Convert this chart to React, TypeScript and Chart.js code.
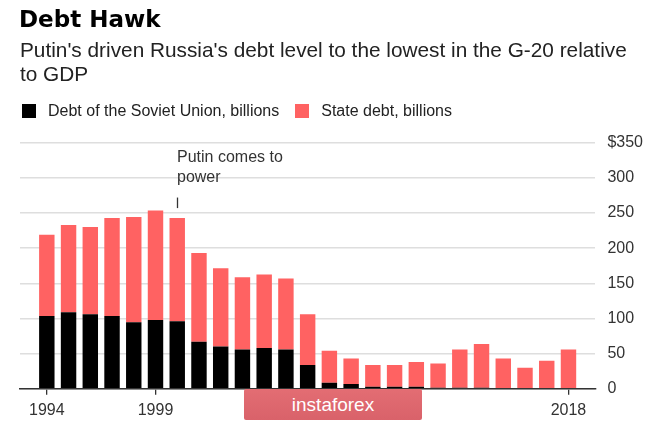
import React, { useEffect, useRef } from 'react';
import { Chart, registerables } from 'chart.js';

Chart.register(...registerables);

// ---- data ----
const years = [
  1994, 1995, 1996, 1997, 1998, 1999, 2000, 2001, 2002, 2003, 2004, 2005, 2006,
  2007, 2008, 2009, 2010, 2011, 2012, 2013, 2014, 2015, 2016, 2017, 2018,
];
const sovietDebt = [
  103.5, 109, 106, 103.5, 94.5, 98, 96, 67, 60, 56, 58, 56, 34,
  8.5, 7, 3, 3, 3, 1.5, 1.5, 1.5, 1, 1, 1, 0,
];
const stateDebt = [
  115.5, 124, 124, 139.5, 150, 155.5, 147, 126, 111.5, 102.6, 104.4, 100.7, 72,
  45.5, 36, 31, 31, 35, 34.5, 54.5, 62.1, 42, 29, 39, 56,
];
const yTickValues = [0, 50, 100, 150, 200, 250, 300, 350];
const xTickYears = [1994, 1999, 2018];
const seriesLabels = ['Debt of the Soviet Union, billions', 'State debt, billions'];
const seriesColors = ['#000000', '#ff6262'];
const titleText = 'Debt Hawk';
const subtitleLines = [
  "Putin's driven Russia's debt level to the lowest in the G-20 relative",
  'to GDP',
];
const annotationYear = 2000;
const annotationRange = [257, 272];
const annotationLines = ['Putin comes to', 'power'];

const FONT = '"Liberation Sans", Arial, Helvetica, sans-serif';

const annotationPlugin = {
  id: 'putinNote',
  afterDatasetsDraw(chart: any) {
    const { ctx, scales } = chart;
    const x = scales.x;
    const y = scales.y;
    const px = Math.round(x.getPixelForValue(annotationYear)) + 0.5;
    const yBottom = y.getPixelForValue(annotationRange[0]);
    const yTop = y.getPixelForValue(annotationRange[1]);
    ctx.save();
    ctx.strokeStyle = '#333';
    ctx.lineWidth = 1.3;
    ctx.beginPath();
    ctx.moveTo(px, yTop);
    ctx.lineTo(px, yBottom);
    ctx.stroke();
    ctx.fillStyle = '#333';
    ctx.font = `16px ${FONT}`;
    ctx.textAlign = 'left';
    ctx.textBaseline = 'alphabetic';
    ctx.fillText(annotationLines[0], px - 0.5, yTop - 35.5);
    ctx.fillText(annotationLines[1], px - 0.5, yTop - 15.5);
    ctx.restore();
  },
};

export default function App() {
  const canvasRef = useRef<HTMLCanvasElement | null>(null);

  useEffect(() => {
    if (!canvasRef.current) return;
    const chart = new Chart(canvasRef.current, {
      type: 'bar',
      data: {
        datasets: [
          {
            label: seriesLabels[0],
            data: years.map((yr, i) => ({ x: yr, y: sovietDebt[i] })),
            backgroundColor: seriesColors[0],
            borderWidth: 0,
            categoryPercentage: 1,
            barPercentage: 0.71,
          },
          {
            label: seriesLabels[1],
            data: years.map((yr, i) => ({ x: yr, y: stateDebt[i] })),
            backgroundColor: seriesColors[1],
            borderWidth: 0,
            categoryPercentage: 1,
            barPercentage: 0.71,
          },
        ],
      },
      options: {
        animation: false,
        responsive: false,
        layout: { padding: { left: 20, top: 142.7, right: 10, bottom: -6 } },
        plugins: {
          legend: { display: false },
          tooltip: { enabled: false },
          title: { display: false },
        },
        scales: {
          x: {
            type: 'linear',
            stacked: true,
            min: 1992.766,
            max: 2019.239,
            offset: false,
            afterBuildTicks: (s: any) => {
              s.ticks = xTickYears.map((v) => ({ value: v }));
            },
            ticks: {
              callback: (v: any) => String(v),
              font: { size: 16, family: FONT },
              color: '#333',
              padding: 6.5,
              maxRotation: 0,
              autoSkip: false,
            },
            grid: {
              offset: false,
              drawOnChartArea: false,
              drawTicks: true,
              tickLength: 6,
              color: '#333',
              lineWidth: 1.3,
            },
            border: { display: true, color: '#333', width: 1.5 },
          },
          y: {
            position: 'right',
            stacked: true,
            min: 0,
            max: 350,
            afterBuildTicks: (s: any) => {
              s.ticks = yTickValues.map((v) => ({ value: v }));
            },
            ticks: {
              callback: (v: any) => (v === 350 ? '$' + v : String(v)),
              font: { size: 16, family: FONT },
              color: '#333',
              padding: 12,
            },
            grid: { color: '#dedede', lineWidth: 1.5, drawTicks: false },
            border: { display: false },
          },
        },
      },
      plugins: [annotationPlugin],
    } as any);
    return () => chart.destroy();
  }, []);

  return (
    <div
      style={{
        position: 'absolute',
        left: 0,
        top: 0,
        width: 665,
        height: 421,
        background: '#fff',
        overflow: 'hidden',
        fontFamily: FONT,
      }}
    >
      <canvas
        ref={canvasRef}
        width={665}
        height={421}
        style={{ position: 'absolute', left: 0, top: 0, width: 665, height: 421 }}
      />
      <div
        style={{
          position: 'absolute',
          left: 19,
          top: 8,
          fontFamily: '"DejaVu Sans", sans-serif',
          fontWeight: 700,
          fontSize: 23,
          lineHeight: '23px',
          color: '#000',
          whiteSpace: 'nowrap',
        }}
      >
        {titleText}
      </div>
      <div
        style={{
          position: 'absolute',
          left: 20,
          top: 38,
          fontSize: 20.8,
          lineHeight: '24px',
          color: '#222',
          whiteSpace: 'nowrap',
        }}
      >
        {subtitleLines.map((l, i) => (
          <div key={i}>{l}</div>
        ))}
      </div>
      <div
        style={{
          position: 'absolute',
          left: 22,
          top: 102,
          display: 'flex',
          alignItems: 'center',
          fontSize: 16,
          lineHeight: '18px',
          color: '#222',
          whiteSpace: 'nowrap',
        }}
      >
        {seriesLabels.map((l, i) => (
          <div key={i} style={{ display: 'flex', alignItems: 'center', marginRight: 16 }}>
            <span
              style={{
                display: 'inline-block',
                width: 14,
                height: 14,
                background: seriesColors[i],
                marginRight: 12,
              }}
            />
            <span>{l}</span>
          </div>
        ))}
      </div>
      <div
        style={{
          position: 'absolute',
          left: 244,
          top: 389,
          width: 178,
          height: 31,
          background: 'linear-gradient(#e36d73, #d9626a)',
          borderRadius: 2,
          color: '#fff',
          fontSize: 19,
          lineHeight: '31px',
          textAlign: 'center',
        }}
      >
        instaforex
      </div>
    </div>
  );
}
